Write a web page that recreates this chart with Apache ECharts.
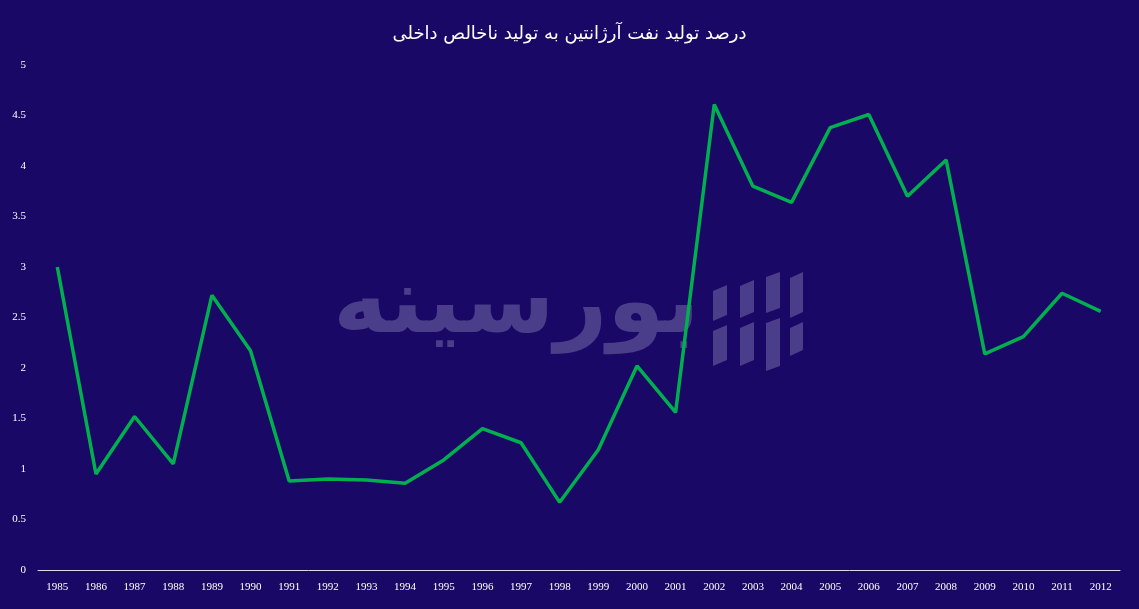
<!DOCTYPE html>
<html>
<head>
<meta charset="utf-8">
<script src="https://cdn.jsdelivr.net/npm/echarts@6/dist/echarts.min.js"></script>
<style>
html,body{margin:0;padding:0;background:#1a0866;}
#chart{width:1139px;height:609px;}
</style>
</head>
<body>
<div id="chart"></div>
<script>
const years = ['1985','1986','1987','1988','1989','1990','1991','1992','1993','1994','1995','1996','1997','1998','1999','2000','2001','2002','2003','2004','2005','2006','2007','2008','2009','2010','2011','2012'];
const share = [3.0,0.95,1.52,1.05,2.72,2.17,0.88,0.90,0.89,0.86,1.09,1.40,1.26,0.67,1.19,2.02,1.56,4.61,3.80,3.64,4.38,4.51,3.70,4.06,2.14,2.31,2.74,2.56];
const titleText = 'درصد تولید نفت آرژانتین به تولید ناخالص داخلی';
const watermark = 'بورسینه';

const wmColor = '#4a3d8a';
function bar(x, yTop, w, h, slope) {
  return {type: 'polygon', z: 0, silent: true,
    shape: {points: [[x, yTop + slope], [x + w, yTop], [x + w, yTop + h], [x, yTop + h + slope]]},
    style: {fill: wmColor}};
}

const chart = echarts.init(document.getElementById('chart'));
chart.setOption({
  backgroundColor: '#1a0866',
  animation: false,
  title: {
    text: titleText,
    left: 'center',
    top: 20,
    textStyle: {color: '#ffffff', fontSize: 18, fontWeight: 'normal', fontFamily: 'DejaVu Sans'}
  },
  graphic: [{
    type: 'text',
    left: 333,
    top: 262,
    z: 0,
    silent: true,
    style: {
      text: watermark,
      fill: wmColor,
      font: 'bold 92px "DejaVu Sans"'
    }
  },
  bar(713, 285, 14, 30, 6), bar(713, 325, 14, 35, 6),
  bar(740, 280, 14, 32, 6), bar(740, 322, 14, 38, 6),
  bar(766, 272, 14, 36, 5), bar(766, 318, 14, 48, 5),
  bar(790, 272, 13, 40, 6), bar(790, 322, 13, 28, 6)
  ],
  grid: {left: 38, right: 19, top: 65, bottom: 39},
  xAxis: {
    type: 'category',
    data: years,
    boundaryGap: true,
    axisLine: {lineStyle: {color: '#d9d9e8', width: 1}},
    axisTick: {show: false},
    axisLabel: {color: '#ffffff', fontSize: 11, fontFamily: 'Liberation Serif', margin: 12, interval: 0}
  },
  yAxis: {
    type: 'value',
    min: 0,
    max: 5,
    interval: 0.5,
    axisLine: {show: false},
    axisTick: {show: false},
    splitLine: {show: false},
    axisLabel: {color: '#ffffff', fontSize: 11, fontFamily: 'Liberation Serif', margin: 12}
  },
  series: [{
    type: 'line',
    data: share,
    symbol: 'none',
    z: 5,
    lineStyle: {color: '#00b04f', width: 3.5}
  }]
});
</script>
</body>
</html>
